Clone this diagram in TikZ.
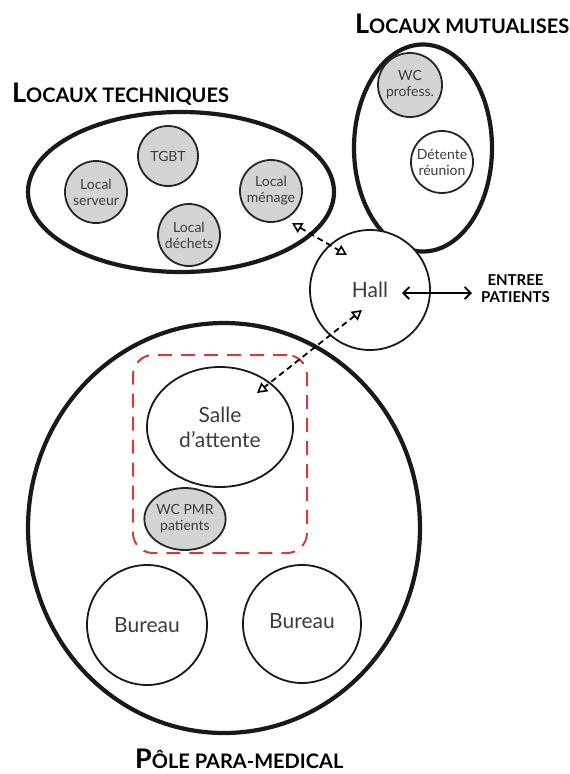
\documentclass[tikz,border=0pt]{standalone}
\usepackage{fontspec}
\setmainfont{Lato}
\usetikzlibrary{arrows.meta,shapes.geometric,calc}
\definecolor{grayfill}{HTML}{D4D4D4}
\definecolor{txt}{HTML}{3C3C3C}
\definecolor{redd}{HTML}{D23C3C}
\begin{document}
\begin{tikzpicture}[x=1pt,y=-1pt,
  zone/.style={ellipse, draw=black!90, line width=4.2pt, inner sep=0pt},
  room/.style={circle, draw=black!85, line width=1.8pt, fill=grayfill, text=txt, align=center,
    font=\fontsize{14}{16}\selectfont, inner sep=0pt, minimum size=62pt},
  whiteroom/.style={room, fill=white},
  bigroom/.style={circle, draw=black!90, line width=1.8pt, fill=white, text=txt, align=center,
    font=\fontsize{21}{25}\selectfont, inner sep=0pt},
  heading/.style={font=\bfseries, text=black, inner sep=0pt},
  dasharrow/.style={line width=1.8pt, dash pattern=on 6pt off 4pt,
    {Triangle[open,length=10pt,width=11pt,line width=1.6pt]}-{Triangle[open,length=10pt,width=11pt,line width=1.6pt]}},
  biarrow/.style={line width=1.8pt, {Straight Barb[length=6pt,width=12pt,line width=1.8pt]}-{Straight Barb[length=6pt,width=12pt,line width=1.8pt]}}
]
\useasboundingbox (0,0) rectangle (570,774);

% headings
\node[heading, anchor=base west] (t1) at (12,102) {\fontsize{27}{27}\selectfont L\fontsize{20}{20}\selectfont OCAUX TECHNIQUES};
\node[heading, anchor=base west] (t2) at (355,33) {\fontsize{27}{27}\selectfont L\fontsize{20}{20}\selectfont OCAUX MUTUALISES};
\node[heading, anchor=base west] (t3) at (135,768) {\fontsize{27}{27}\selectfont P\fontsize{20}{20}\selectfont ÔLE PARA-MEDICAL};

% zones
\node[zone, minimum width=306pt, minimum height=160pt] (tech) at (181,192) {};
\node[zone, minimum width=138pt, minimum height=207pt] (mut) at (423,148) {};
\node[zone, minimum width=392pt, minimum height=410pt] (pole) at (224,528) {};

% locaux techniques
\node[room, minimum size=60pt] (tgbt) at (168,156) {TGBT};
\node[room] (serveur) at (96,192) {Local\\serveur};
\node[room] (dechets) at (189,235) {Local\\déchets};
\node[room] (menage) at (271,191) {Local\\ménage};

% locaux mutualises
\node[room, minimum size=64pt] (wcprof) at (410,85) {WC\\profess.};
\node[whiteroom] (detente) at (442,162) {Détente\\réunion};

% hall
\node[bigroom, minimum size=120pt] (hall) at (370,290) {Hall};
\node[heading, anchor=west, align=center, font=\bfseries\fontsize{15}{17}\selectfont] (entree) at (481,289) {ENTREE\\PATIENTS};

% pole para-medical
\node[draw=redd, line width=2pt, dash pattern=on 14pt off 9pt, rounded corners=20pt,
  minimum width=174pt, minimum height=198pt, inner sep=0pt] (attzone) at (220,454) {};
\node[bigroom, ellipse, minimum width=146pt, minimum height=120pt] (salle) at (220,427) {Salle\\d’attente};
\node[room, ellipse, minimum width=76pt, minimum height=62pt] (wcpmr) at (185,519) {WC PMR\\patients};
\node[bigroom, minimum size=120pt] (bureau1) at (147,625) {Bureau};
\node[bigroom, minimum size=118pt] (bureau2) at (302,624) {\raisebox{6pt}{Bureau}};

% connectors
\coordinate (m1) at (292,223);
\coordinate (h1) at (347,255);
\coordinate (h2) at (362,310);
\coordinate (s1) at (257,393);
\draw[dasharrow] (m1) -- (h1);
\draw[dasharrow] (h2) -- (s1);
\draw[biarrow] ([xshift=32pt,yshift=-3pt]hall.center) -- ([xshift=-9pt,yshift=-4pt]entree.west);
\end{tikzpicture}
\end{document}
